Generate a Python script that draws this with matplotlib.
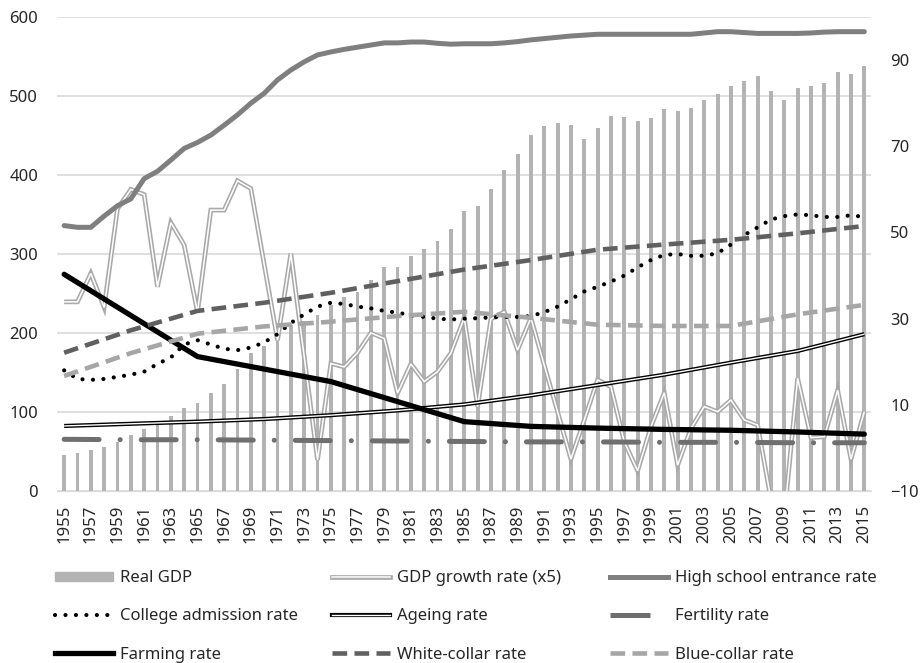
"""Real GDP vs. social indicators, 1955-2015 (bars + rate lines on a twin axis)."""
import matplotlib
matplotlib.use("Agg")
import matplotlib.pyplot as plt
from matplotlib.lines import Line2D
from matplotlib.patches import Patch

plt.rcParams["font.family"] = ["Noto Sans", "DejaVu Sans"]

years = list(range(1955, 2016))
tick_years = years[::2]

# left axis: real GDP (bars)
real_gdp = [
    45.6, 47.7, 51.9, 56.0, 62.4, 70.9, 78.0, 83.5, 95.0, 105.0,
    111.0, 123.6, 136.0, 154.0, 175.0, 183.0, 199.0, 210.0, 215.0, 223.0,
    235.0, 245.0, 252.0, 267.0, 283.0, 284.0, 297.0, 306.0, 316.0, 332.0,
    354.0, 361.0, 382.0, 407.0, 426.0, 451.0, 462.0, 466.0, 463.0, 446.0,
    460.0, 475.0, 473.0, 469.0, 472.0, 483.0, 481.0, 485.0, 495.0, 502.0,
    513.0, 519.0, 525.0, 506.0, 495.0, 510.0, 513.0, 516.0, 531.0, 528.0,
    538.0,
]

# right axis: rates (%)
gdp_growth_x5 = [
    33.9, 33.9, 40.5, 32.6, 55.5, 60.0, 58.8, 37.4, 52.3, 47.1,
    31.5, 55.2, 55.2, 62.0, 60.2, 42.6, 25.0, 45.1, 21.2, -2.8,
    19.6, 18.8, 22.1, 26.7, 25.4, 12.7, 19.5, 15.4, 17.7, 22.0,
    30.2, 9.6, 29.9, 31.6, 22.7, 30.2, 19.2, 8.4, -2.6, 6.5,
    15.8, 14.2, 1.4, -5.3, 4.9, 12.8, -4.0, 4.5, 9.6, 8.4,
    11.1, 6.5, 5.3, -12.0, -16.0, 16.2, 2.4, 2.6, 13.4, -2.6,
    8.4,
]
high_school = [
    51.6, 51.2, 51.2, 53.8, 56.2, 57.8, 62.5, 64.2, 66.8, 69.5,
    70.9, 72.6, 74.9, 77.3, 80.0, 82.3, 85.4, 87.7, 89.6, 91.2,
    91.9, 92.5, 93.0, 93.5, 94.0, 94.0, 94.2, 94.2, 93.9, 93.7,
    93.8, 93.8, 93.8, 94.0, 94.3, 94.7, 95.0, 95.3, 95.6, 95.8,
    96.0, 96.0, 96.0, 96.0, 96.0, 96.0, 96.0, 96.0, 96.3, 96.6,
    96.6, 96.4, 96.2, 96.2, 96.2, 96.2, 96.3, 96.5, 96.6, 96.6,
    96.6,
]
college = [
    18.0, 16.0, 15.8, 16.0, 16.5, 17.0, 17.7, 19.5, 21.0, 24.0,
    25.0, 24.0, 23.0, 22.7, 23.3, 24.5, 26.4, 29.0, 31.0, 32.8,
    33.7, 33.4, 32.8, 32.4, 31.8, 31.4, 30.8, 30.4, 30.0, 29.8,
    30.0, 30.1, 30.3, 30.4, 30.4, 30.6, 31.5, 32.8, 34.5, 36.3,
    37.4, 38.6, 40.0, 41.9, 43.6, 44.8, 45.0, 44.6, 44.6, 45.2,
    47.2, 49.4, 51.2, 53.0, 53.8, 54.2, 54.0, 53.6, 53.6, 54.0,
    53.6,
]

# slowly varying series, read at 5-year marks
census_years = [1955, 1960, 1965, 1970, 1975, 1980, 1985,
                1990, 1995, 2000, 2005, 2010, 2015]
ageing = [5.1, 5.6, 6.1, 6.7, 7.6, 8.7, 10.1, 12.2, 14.6, 17.0, 19.8, 22.5, 26.4]
white_collar = [22.1, 27.3, 31.8, 33.7, 36.0, 38.7, 41.4, 43.6, 46.0, 47.2, 48.3, 49.8, 51.5]
blue_collar = [16.7, 22.0, 26.5, 28.2, 29.3, 30.6, 31.6, 30.2, 28.6, 28.3, 28.3, 31.0, 33.2]
fertility = [2.0, 1.9, 1.9, 1.8, 1.7, 1.6, 1.5, 1.4, 1.4, 1.3, 1.3, 1.2, 1.2]

farming_years = [1955, 1965, 1970, 1975, 1985, 1990, 1995, 2000, 2005, 2010, 2015]
farming = [40.3, 21.2, 18.3, 15.4, 6.1, 5.0, 4.6, 4.3, 4.1, 3.7, 3.2]

TEXT = "#262626"
GRID = "#d9d9d9"
FS = 12


def _double_line(ax, x, y, outer, outer_lw, inner_lw):
    a, = ax.plot(x, y, color=outer, lw=outer_lw, solid_capstyle="butt",
                 solid_joinstyle="miter")
    b, = ax.plot(x, y, color="white", lw=inner_lw, solid_capstyle="butt",
                 solid_joinstyle="miter")
    return a, b


def main():
    fig = plt.figure(figsize=(9.21, 6.63), dpi=100)
    ax = fig.add_axes([0.0624, 0.2594, 0.8833, 0.7149])
    ax2 = ax.twinx()

    ax.set_axisbelow(True)
    ax.yaxis.grid(True, color=GRID, lw=1.2)
    ax.bar(years, real_gdp, width=0.29, color="#b3b3b3", zorder=2)

    g = _double_line(ax2, years, gdp_growth_x5, "#a9a9a9", 3.4, 1.1)
    ax2.plot(years, high_school, color="#7f7f7f", lw=3.6,
             solid_capstyle="round")
    ax2.plot(years, college, color="black", lw=3.0, dashes=(0.01, 2.5),
             dash_capstyle="round")
    a = _double_line(ax2, census_years, ageing, "black", 3.0, 1.0)
    ax2.plot(census_years, fertility, color="#6f6f6f", lw=3.6,
             dashes=(7.0, 4.2, 0.01, 4.2), dash_capstyle="round")
    ax2.plot(farming_years, farming, color="black", lw=3.8,
             solid_capstyle="round")
    ax2.plot(census_years, white_collar, color="#606060", lw=3.3,
             dashes=(3.2, 1.6))
    ax2.plot(census_years, blue_collar, color="#a6a6a6", lw=3.3,
             dashes=(3.2, 1.6))

    ax.set_xlim(1954.5, 2015.5)
    ax.set_ylim(0, 600)
    ax.set_yticks(range(0, 601, 100))
    ax2.set_ylim(-10, 100)
    ax2.set_yticks(range(-10, 91, 20))
    ax.set_xticks(tick_years)
    ax.set_xticklabels([str(y) for y in tick_years], rotation=90)

    for a_ in (ax, ax2):
        for s in a_.spines.values():
            s.set_visible(False)
        a_.tick_params(length=0, labelsize=FS, labelcolor=TEXT)
    ax.spines["bottom"].set_visible(True)
    ax.spines["bottom"].set_color(GRID)
    ax.tick_params(axis="y", pad=14)
    ax.tick_params(axis="x", pad=10)
    ax2.tick_params(axis="y", pad=14)

    # legend: three columns, each its own legend so columns sit where Excel put them
    hs = Line2D([], [], color="#7f7f7f", lw=3.6)
    cols = [
        [(Patch(color="#b3b3b3"), "Real GDP"),
         (Line2D([], [], color="black", lw=3.0, dashes=(0.01, 2.5),
                 dash_capstyle="round"), "College admission rate"),
         (Line2D([], [], color="black", lw=3.8), "Farming rate")],
        [(tuple(Line2D([], [], color=l.get_color(), lw=l.get_linewidth())
                for l in g), "GDP growth rate (x5)"),
         (tuple(Line2D([], [], color=l.get_color(), lw=l.get_linewidth())
                for l in a), "Ageing rate"),
         (Line2D([], [], color="#606060", lw=3.3, dashes=(3.2, 1.6)),
          "White-collar rate")],
        [(hs, "High school entrance rate"),
         (Line2D([], [], color="#6f6f6f", lw=3.6, dashes=(8.0, 100)),
          "Fertility rate"),
         (Line2D([], [], color="#a6a6a6", lw=3.3, dashes=(3.2, 1.6)),
          "Blue-collar rate")],
    ]
    for x_px, entries in zip([55, 332, 610], cols):
        handles, labels = zip(*entries)
        fig.legend(handles, labels, loc="upper left",
                   bbox_to_anchor=(x_px / 921, 1 - 570 / 663),
                   frameon=False, fontsize=FS, handlelength=3.5,
                   handleheight=0.45, handletextpad=0.4,
                   labelspacing=1.34, borderpad=0, borderaxespad=0,
                   labelcolor=TEXT)

    fig.savefig("out.png", dpi=100)
    plt.close(fig)


if __name__ == "__main__":
    main()
